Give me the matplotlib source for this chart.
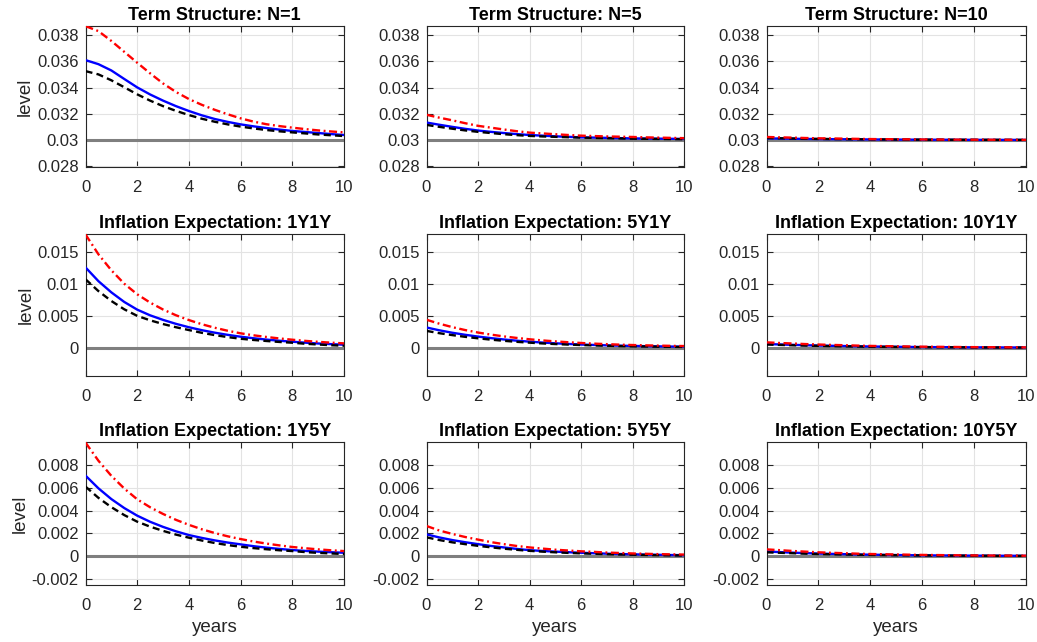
import numpy as np
import matplotlib
matplotlib.use("Agg")
import matplotlib.pyplot as plt
from matplotlib.ticker import FuncFormatter

plt.rcParams['font.family'] = ['Liberation Sans', 'DejaVu Sans']

# horizon in years
years = [0, 0.5, 1, 1.5, 2, 2.5, 3, 3.5, 4, 4.5, 5, 5.5, 6, 6.5, 7, 7.5, 8, 8.5, 9, 9.5, 10]

titles = ["Term Structure: N=1", "Term Structure: N=5", "Term Structure: N=10",
          "Inflation Expectation: 1Y1Y", "Inflation Expectation: 5Y1Y", "Inflation Expectation: 10Y1Y",
          "Inflation Expectation: 1Y5Y", "Inflation Expectation: 5Y5Y", "Inflation Expectation: 10Y5Y"]

# all values in units of 1e-3
steady_state = [30, 30, 30, 0, 0, 0, 0, 0, 0]

# red dash-dot series
red_vals = [
    [38.68, 38.30, 37.55, 36.72, 35.89, 35.08, 34.31, 33.66, 33.12, 32.68, 32.30, 31.96, 31.65, 31.40, 31.20, 31.06, 30.94, 30.83, 30.73, 30.65, 30.58],
    [31.92, 31.70, 31.50, 31.28, 31.08, 30.94, 30.80, 30.67, 30.56, 30.50, 30.44, 30.38, 30.33, 30.30, 30.27, 30.25, 30.23, 30.20, 30.18, 30.16, 30.14],
    [30.23, 30.20, 30.18, 30.15, 30.13, 30.115, 30.10, 30.085, 30.07, 30.062, 30.055, 30.047, 30.04, 30.035, 30.03, 30.025, 30.02, 30.018, 30.015, 30.012, 30.01],
    [17.7, 14.6, 12.1, 10.0, 8.35, 7.05, 5.97, 5.07, 4.32, 3.67, 3.12, 2.65, 2.25, 1.94, 1.68, 1.45, 1.25, 1.07, 0.92, 0.79, 0.68],
    [4.37, 3.75, 3.22, 2.76, 2.37, 2.05, 1.77, 1.53, 1.32, 1.14, 0.99, 0.86, 0.74, 0.64, 0.56, 0.48, 0.42, 0.37, 0.33, 0.29, 0.26],
    [0.84, 0.74, 0.66, 0.57, 0.50, 0.44, 0.39, 0.33, 0.28, 0.25, 0.22, 0.19, 0.16, 0.14, 0.125, 0.105, 0.09, 0.08, 0.07, 0.06, 0.05],
    [10.0, 8.4, 7.07, 5.95, 5.0, 4.3, 3.71, 3.19, 2.75, 2.36, 2.03, 1.74, 1.5, 1.28, 1.1, 0.94, 0.8, 0.69, 0.59, 0.51, 0.44],
    [2.65, 2.25, 1.95, 1.68, 1.45, 1.23, 1.05, 0.89, 0.76, 0.66, 0.56, 0.49, 0.42, 0.37, 0.31, 0.27, 0.23, 0.20, 0.17, 0.15, 0.13],
    [0.59, 0.52, 0.45, 0.39, 0.33, 0.29, 0.25, 0.21, 0.18, 0.16, 0.14, 0.12, 0.10, 0.09, 0.075, 0.065, 0.055, 0.048, 0.04, 0.035, 0.03],
]

# blue solid series
blue_vals = [
    [36.09, 35.78, 35.30, 34.65, 34.01, 33.47, 33.00, 32.58, 32.21, 31.88, 31.60, 31.38, 31.19, 31.04, 30.91, 30.79, 30.69, 30.61, 30.53, 30.45, 30.38],
    [31.33, 31.16, 31.00, 30.85, 30.72, 30.62, 30.53, 30.45, 30.38, 30.33, 30.28, 30.24, 30.20, 30.18, 30.16, 30.14, 30.12, 30.11, 30.10, 30.09, 30.08],
    [30.12, 30.11, 30.095, 30.08, 30.07, 30.062, 30.055, 30.047, 30.04, 30.035, 30.03, 30.025, 30.02, 30.018, 30.015, 30.012, 30.01, 30.009, 30.007, 30.006, 30.005],
    [12.55, 10.4, 8.65, 7.15, 5.95, 5.06, 4.35, 3.73, 3.2, 2.74, 2.35, 2.01, 1.72, 1.48, 1.27, 1.09, 0.94, 0.79, 0.66, 0.56, 0.47],
    [3.16, 2.72, 2.34, 2.02, 1.74, 1.5, 1.29, 1.10, 0.95, 0.81, 0.69, 0.59, 0.50, 0.43, 0.37, 0.32, 0.28, 0.24, 0.21, 0.18, 0.16],
    [0.58, 0.51, 0.45, 0.39, 0.34, 0.30, 0.26, 0.22, 0.19, 0.165, 0.14, 0.12, 0.10, 0.09, 0.08, 0.07, 0.06, 0.05, 0.04, 0.035, 0.03],
    [7.09, 5.97, 5.02, 4.23, 3.56, 3.02, 2.57, 2.18, 1.85, 1.6, 1.38, 1.19, 1.03, 0.87, 0.74, 0.63, 0.53, 0.455, 0.39, 0.34, 0.29],
    [1.91, 1.64, 1.41, 1.22, 1.05, 0.89, 0.76, 0.63, 0.52, 0.45, 0.39, 0.34, 0.29, 0.25, 0.21, 0.18, 0.15, 0.13, 0.11, 0.09, 0.08],
    [0.40, 0.35, 0.30, 0.26, 0.22, 0.19, 0.165, 0.14, 0.12, 0.105, 0.09, 0.075, 0.065, 0.055, 0.048, 0.04, 0.035, 0.03, 0.025, 0.022, 0.02],
]

# black dashed series
black_vals = [
    [35.25, 35.00, 34.55, 34.02, 33.48, 33.00, 32.58, 32.22, 31.90, 31.62, 31.39, 31.19, 31.02, 30.88, 30.76, 30.66, 30.58, 30.50, 30.42, 30.36, 30.30],
    [31.15, 31.00, 30.86, 30.73, 30.62, 30.53, 30.44, 30.37, 30.31, 30.27, 30.24, 30.21, 30.18, 30.16, 30.14, 30.12, 30.10, 30.09, 30.08, 30.07, 30.06],
    [30.15, 30.13, 30.115, 30.095, 30.08, 30.07, 30.062, 30.053, 30.045, 30.04, 30.035, 30.03, 30.025, 30.022, 30.019, 30.016, 30.013, 30.011, 30.01, 30.008, 30.007],
    [10.7, 8.85, 7.3, 6.0, 4.98, 4.28, 3.7, 3.2, 2.76, 2.33, 1.97, 1.66, 1.4, 1.21, 1.05, 0.9, 0.78, 0.62, 0.5, 0.39, 0.31],
    [2.63, 2.27, 1.97, 1.70, 1.47, 1.26, 1.08, 0.92, 0.79, 0.67, 0.57, 0.49, 0.42, 0.36, 0.31, 0.26, 0.22, 0.19, 0.16, 0.14, 0.12],
    [0.50, 0.44, 0.38, 0.33, 0.29, 0.25, 0.22, 0.19, 0.16, 0.14, 0.12, 0.10, 0.09, 0.08, 0.07, 0.06, 0.05, 0.04, 0.035, 0.03, 0.025],
    [6.12, 5.13, 4.31, 3.61, 3.03, 2.59, 2.22, 1.89, 1.62, 1.37, 1.15, 0.97, 0.82, 0.70, 0.60, 0.51, 0.44, 0.35, 0.28, 0.23, 0.18],
    [1.65, 1.41, 1.21, 1.05, 0.90, 0.77, 0.65, 0.55, 0.46, 0.39, 0.33, 0.28, 0.24, 0.20, 0.17, 0.14, 0.12, 0.10, 0.08, 0.065, 0.05],
    [0.33, 0.29, 0.25, 0.21, 0.18, 0.16, 0.14, 0.12, 0.10, 0.088, 0.075, 0.065, 0.055, 0.048, 0.04, 0.035, 0.03, 0.025, 0.02, 0.018, 0.015],
]

row_ylim = [(0.02794, 0.03869), (-0.00442, 0.01777), (-0.00255, 0.01005)]
row_yticks = [[0.028, 0.030, 0.032, 0.034, 0.036, 0.038],
              [0, 0.005, 0.01, 0.015],
              [-0.002, 0, 0.002, 0.004, 0.006, 0.008]]
xticks = [0, 2, 4, 6, 8, 10]

W, H = 1037, 642
fig = plt.figure(figsize=(W / 100, H / 100), dpi=100)

col_left = [85.5, 426.5, 766.5]
col_right = [344, 684, 1026]
row_top = [26, 234, 442]
row_bot = [167, 376, 585]

tc = '#262626'
scale = 1e-3

def gfmt(v, pos):
    return '%g' % v

for i in range(9):
    r, c = divmod(i, 3)
    x0 = col_left[c] / W
    w = (col_right[c] - col_left[c]) / W
    y0 = 1 - row_bot[r] / H
    h = (row_bot[r] - row_top[r]) / H
    ax = fig.add_axes([x0, y0, w, h])
    t = np.array(years)
    ax.plot([years[0], years[-1]], [steady_state[i] * scale] * 2, color='#7f7f7f', lw=2.2, zorder=2)
    ax.plot(t, np.array(blue_vals[i]) * scale, color='#0000ff', lw=1.7, ls='-', zorder=3)
    ax.plot(t, np.array(black_vals[i]) * scale, color='black', lw=1.7, ls=(0, (3.0, 1.8)), zorder=4)
    ax.plot(t, np.array(red_vals[i]) * scale, color='#ff0000', lw=1.7, ls=(0, (3.4, 1.5, 0.8, 1.5)), zorder=5)
    ax.set_xlim(0, 10)
    ax.set_ylim(*row_ylim[r])
    ax.set_xticks(xticks)
    ax.set_yticks(row_yticks[r])
    ax.yaxis.set_major_formatter(FuncFormatter(gfmt))
    ax.xaxis.set_major_formatter(FuncFormatter(gfmt))
    ax.grid(True, color='#e3e3e3', lw=0.8)
    ax.set_axisbelow(True)
    ax.tick_params(direction='in', length=4, width=0.8, top=True, right=True,
                   labelsize=12, colors=tc)
    ax.tick_params(axis='x', pad=9.5)
    ax.tick_params(axis='y', pad=5)
    for sp in ax.spines.values():
        sp.set_color(tc)
        sp.set_linewidth(0.8)
    ax.set_title(titles[i], fontsize=13, fontweight='bold', color='black', pad=4)
    if c == 0:
        ax.set_ylabel('level', fontsize=13.5, color=tc, labelpad=2)
    if r == 2:
        ax.set_xlabel('years', fontsize=13.5, color=tc, labelpad=4)

fig.savefig('out.png', dpi=100)
